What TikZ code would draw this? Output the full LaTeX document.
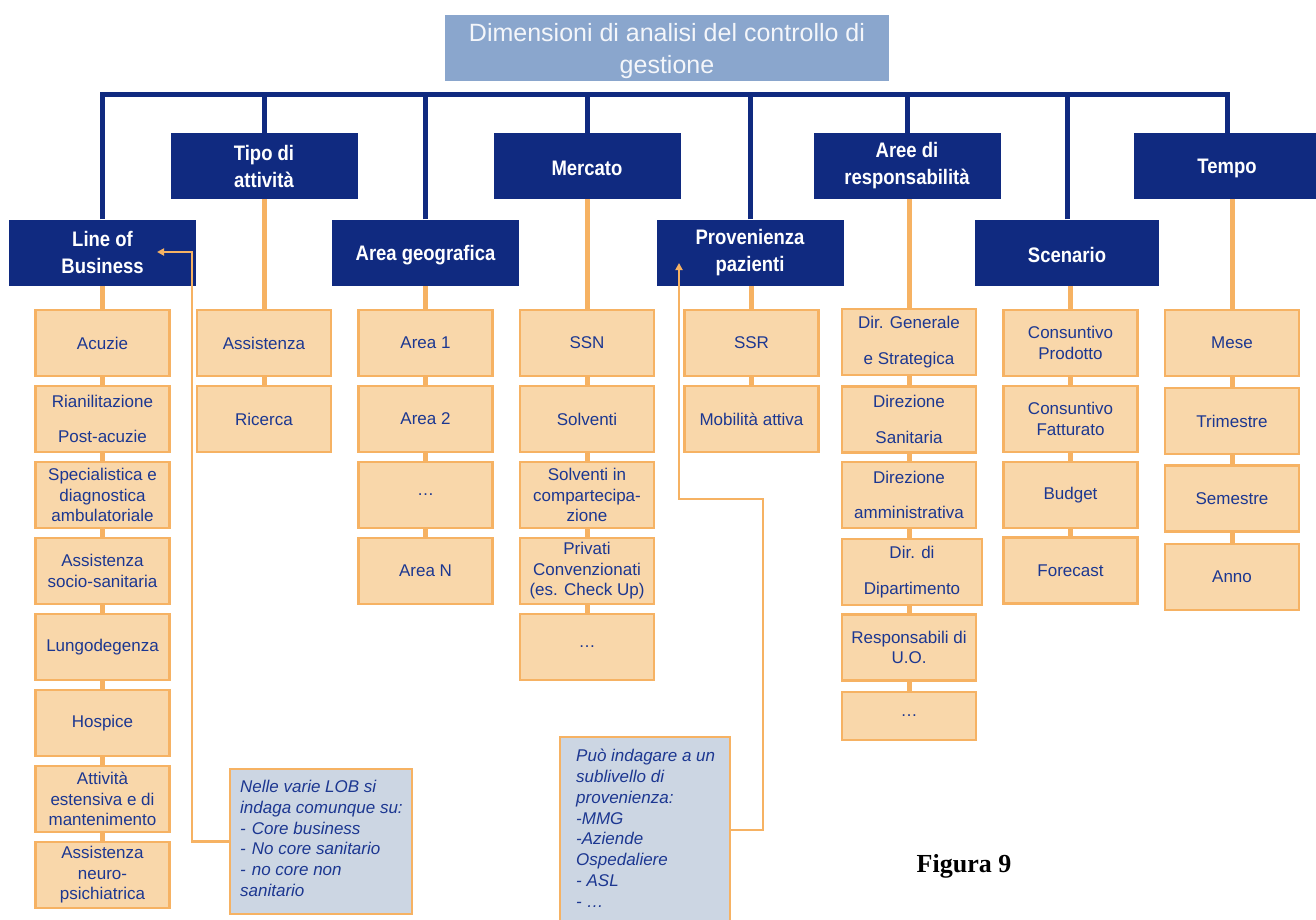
\documentclass[tikz,border=0pt]{standalone}
\usepackage{fontspec}
\setmainfont{Liberation Sans}
\newfontfamily\hdrfont[FakeStretch=0.88]{Liberation Sans}
\newfontfamily\figfont{Liberation Serif}
\usetikzlibrary{arrows.meta,backgrounds}

\definecolor{navy}{HTML}{102A80}
\definecolor{titlefill}{HTML}{8AA6CD}
\definecolor{titletext}{HTML}{F4F6FA}
\definecolor{peach}{HTML}{F9D7AA}
\definecolor{orangeline}{HTML}{F6B263}
\definecolor{textblue}{HTML}{1C3791}
\definecolor{notefill}{HTML}{CCD6E3}

% invisible struts that settle the text inside the boxes
\newcommand\hdrstrut{\rule{0pt}{20pt}}
\newcommand\titlestrut{\rule{0pt}{25pt}}

\begin{document}
\begin{tikzpicture}[x=1pt,y=-1pt,
  titlebox/.style={fill=titlefill, text=titletext, minimum width=444pt, minimum height=66pt,
    inner sep=0pt, align=center, font=\fontsize{25}{32}\selectfont},
  hdr/.style={fill=navy, text=white, minimum width=187pt, minimum height=66pt, inner sep=0pt,
    align=center, font=\hdrfont\bfseries\fontsize{21}{27}\selectfont},
  leaf/.style={draw=orangeline, line width=2.2pt, fill=peach, text=textblue,
    minimum width=134pt, minimum height=66pt, inner sep=0pt, align=center,
    font=\fontsize{17}{20.5}\selectfont},
  notebox/.style={draw=orangeline, line width=2pt, fill=notefill, inner sep=0pt},
  notetext/.style={text=textblue, inner sep=0pt, align=left, anchor=north west,
    font=\itshape\fontsize{17}{20.8}\selectfont},
  busline/.style={draw=navy, line width=5pt, line join=miter},
  link/.style={draw=orangeline, line width=5pt},
  anno/.style={draw=orangeline, line width=2.5pt, -{Triangle[length=7pt,width=7pt]}},
]
\useasboundingbox (0,0) rectangle (1316,920);

% title and dimension headers
\node[titlebox] (title) at (667,48) {\titlestrut Dimensioni di analisi del controllo di\\gestione};

\node[hdr] (lob) at (102.5,252.5) {Line of\\Business};
\node[hdr] (tipo) at (264,166) {Tipo di\\attività};
\node[hdr] (geo) at (425.5,252.5) {\hdrstrut Area geografica};
\node[hdr] (mer) at (587,166) {\hdrstrut Mercato};
\node[hdr] (pro) at (750,252.5) {Provenienza\\pazienti};
\node[hdr] (res) at (907,166) {Aree di\\responsabilità};
\node[hdr, minimum width=184pt] (sce) at (1067,252.5) {\hdrstrut Scenario};
\node[hdr] (tem) at (1227,166) {\hdrstrut Tempo};

% Line of Business
\node[leaf] (lob1) at (102.5,343) {Acuzie};
\node[leaf] (lob2) at (102.5,419) {Rianilitazione\\[15pt]Post-acuzie};
\node[leaf] (lob3) at (102.5,495) {Specialistica e\\diagnostica\\ambulatoriale};
\node[leaf] (lob4) at (102.5,571) {Assistenza\\socio-sanitaria};
\node[leaf] (lob5) at (102.5,647) {Lungodegenza};
\node[leaf] (lob6) at (102.5,723) {Hospice};
\node[leaf] (lob7) at (102.5,799) {Attività\\estensiva e di\\mantenimento};
\node[leaf] (lob8) at (102.5,875) {Assistenza\\neuro-\\psichiatrica};

% Tipo di attivita
\node[leaf] (tip1) at (264,343) {Assistenza};
\node[leaf] (tip2) at (264,419) {Ricerca};

% Area geografica
\node[leaf] (geo1) at (425.5,343) {Area 1};
\node[leaf] (geo2) at (425.5,419) {Area 2};
\node[leaf] (geo3) at (425.5,495) {\ldots};
\node[leaf] (geo4) at (425.5,571) {Area N};

% Mercato
\node[leaf] (mer1) at (587,343) {SSN};
\node[leaf] (mer2) at (587,419) {Solventi};
\node[leaf] (mer3) at (587,495) {Solventi in\\compartecipa-\\zione};
\node[leaf] (mer4) at (587,571) {Privati\\Convenzionati\\(es. Check Up)};
\node[leaf] (mer5) at (587,647) {\ldots};

% Provenienza pazienti
\node[leaf] (pro1) at (751.5,343) {SSR};
\node[leaf] (pro2) at (751.5,419) {Mobilità attiva};

% Aree di responsabilita
\node[leaf] (res1) at (909,342) {Dir. Generale\\[15pt]e Strategica};
\node[leaf] (res2) at (909,419.5) {Direzione\\[15pt]Sanitaria};
\node[leaf] (res3) at (909,495) {Direzione\\[15pt]amministrativa};
\node[leaf, minimum width=140pt] (res4) at (912,572) {Dir. di\\[15pt]Dipartimento};
\node[leaf] (res5) at (909,647.5) {Responsabili di\\U.O.};
\node[leaf, minimum height=48pt] (res6) at (909,716) {\ldots};

% Scenario
\node[leaf] (sce1) at (1070.5,343) {Consuntivo\\Prodotto};
\node[leaf] (sce2) at (1070.5,419) {Consuntivo\\Fatturato};
\node[leaf] (sce3) at (1070.5,495) {Budget};
\node[leaf] (sce4) at (1070.5,570.5) {Forecast};

% Tempo
\node[leaf] (tem1) at (1232,343) {Mese};
\node[leaf] (tem2) at (1232,421) {Trimestre};
\node[leaf] (tem3) at (1232,498.5) {Semestre};
\node[leaf] (tem4) at (1232,577) {Anno};

% notes
\node[notebox, minimum width=182pt, minimum height=145pt] (n1) at (321,841.5) {};
\node[notetext] (n1t) at (240,780) {Nelle varie LOB si\\indaga comunque su:\\-\hspace{6pt}Core business\\-\hspace{6pt}No core sanitario\\-\hspace{6pt}no core non\\sanitario};
\node[notebox, minimum width=170pt, minimum height=186pt] (n2) at (645,830) {};
\node[notetext] (n2t) at (576,749) {Può indagare a un\\sublivello di\\provenienza:\\-MMG\\-Aziende\\Ospedaliere\\- ASL\\- \ldots};

\node[font=\figfont\bfseries\fontsize{26}{30}\selectfont] (fig) at (964,866) {Figura 9};

% columns of leaves hang from their header
\begin{pgfonlayer}{background}
\fill[white] (0,0) rectangle (1316,920);
\draw[link] (lob1.north |- lob.south) -- (lob8.north);
\draw[link] (tip1.north |- tipo.south) -- (tip2.north);
\draw[link] (geo1.north |- geo.south) -- (geo4.north);
\draw[link] (mer1.north |- mer.south) -- (mer5.north);
\draw[link] (pro1.north |- pro.south) -- (pro2.north);
\draw[link] (res1.north |- res.south) -- (res6.north);
\draw[link] (sce1.north |- sce.south) -- (sce4.north);
\draw[link] (tem1.north |- tem.south) -- (tem4.north);
\end{pgfonlayer}

% bus joining the dimension headers
\coordinate (bus) at (0,95);
\draw[busline] (lob.north) -- (lob.north |- bus) -- (tem.north |- bus) -- (tem.north);
\foreach \h in {tipo,geo,mer,pro,res,sce}
  \draw[busline] (\h.north) -- (\h.north |- bus);

% note pointers
\coordinate (lobbend) at (192,252);
\coordinate (lobtip) at (157,252);
\draw[anno] (n1.west) -| (lobbend) -- (lobtip);
\coordinate (probend) at (763,499);
\coordinate (protip) at (679,263);
\draw[anno] (n2.east) -| (probend) -| (protip);
\end{tikzpicture}
\end{document}
